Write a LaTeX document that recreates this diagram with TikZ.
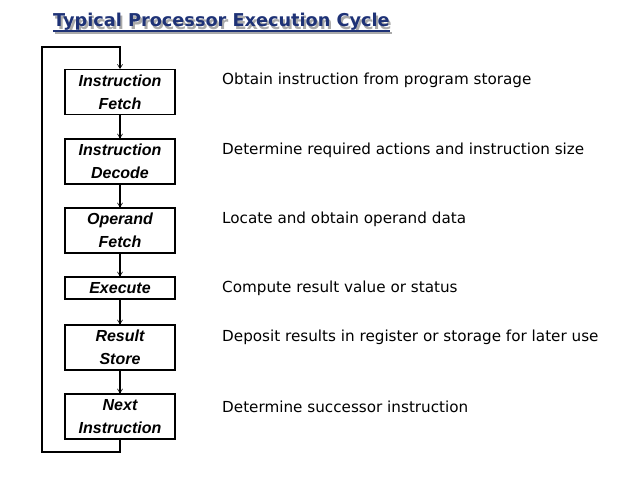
\documentclass[tikz,border=0pt]{standalone}
\usepackage{fontspec}
\setmainfont{DejaVu Sans}
\newfontfamily\boxfont{Liberation Sans}
\usetikzlibrary{arrows.meta,calc}
\definecolor{titleblue}{RGB}{30,50,118}
\definecolor{shadowgray}{RGB}{170,170,170}

\tikzset{
  stage/.style={draw,line width=1.1pt,minimum width=110pt,minimum height=45pt,
    inner sep=0pt,align=center,font=\boxfont\bfseries\itshape\fontsize{16}{23}\selectfont},
  shortstage/.style={stage,minimum height=22pt},
  flow/.style={line width=1.2pt,-{Straight Barb[length=4pt,width=5pt,line width=0.6pt]}},
  desc/.style={anchor=west,inner sep=0pt,font=\fontsize{15.2}{18}\selectfont},
  heading/.style={anchor=base west,inner sep=0pt,font=\bfseries\fontsize{17.7}{20}\selectfont},
}

\begin{document}
\begin{tikzpicture}[x=1pt,y=-1pt]
    \useasboundingbox (0,0) rectangle (638,479);
    % title with shadow
    \node [heading,text=shadowgray] (titleshadow) at (55,29) {Typical Processor Execution Cycle};
    \draw [shadowgray,line width=1.6pt] ([yshift=-4pt]titleshadow.base west) -- ([yshift=-4pt]titleshadow.base east);
    \node [heading,text=titleblue] (title) at (53,27) {Typical Processor Execution Cycle};
    \draw [titleblue,line width=1.6pt] ([yshift=-4pt]title.base west) -- ([yshift=-4pt]title.base east);
    % the stages
    \node [stage] (fetch) at (120,92) {Instruction\\Fetch};
    \node [stage] (decode) at (120,161.5) {Instruction\\Decode};
    \node [stage] (operand) at (120,230.5) {Operand\\Fetch};
    \node [shortstage] (execute) at (120,288) {Execute};
    \node [stage] (store) at (120,347.5) {Result\\Store};
    \node [stage] (next) at (120,416.5) {Next\\Instruction};
    \draw [flow] (fetch) -- (decode);
    \draw [flow] (decode) -- (operand);
    \draw [flow] (operand) -- (execute);
    \draw [flow] (execute) -- (store);
    \draw [flow] (store) -- (next);
    % back to the top
    \coordinate (loopbl) at (42,452);
    \coordinate (looptl) at (42,47);
    \draw [flow] (next.south) |- (loopbl) -- (looptl) -| (fetch.north);
    % what each stage does
    \node [desc] (fetchtxt) at (222,80) {Obtain instruction from program storage};
    \node [desc] (decodetxt) at (222,150) {Determine required actions and instruction size};
    \node [desc] (operandtxt) at (222,219) {Locate and obtain operand data};
    \node [desc] (executetxt) at (222,288) {Compute result value or status};
    \node [desc] (storetxt) at (222,337) {Deposit results in register or storage for later use};
    \node [desc] (nexttxt) at (222,407) {Determine successor instruction};
\end{tikzpicture}
\end{document}
